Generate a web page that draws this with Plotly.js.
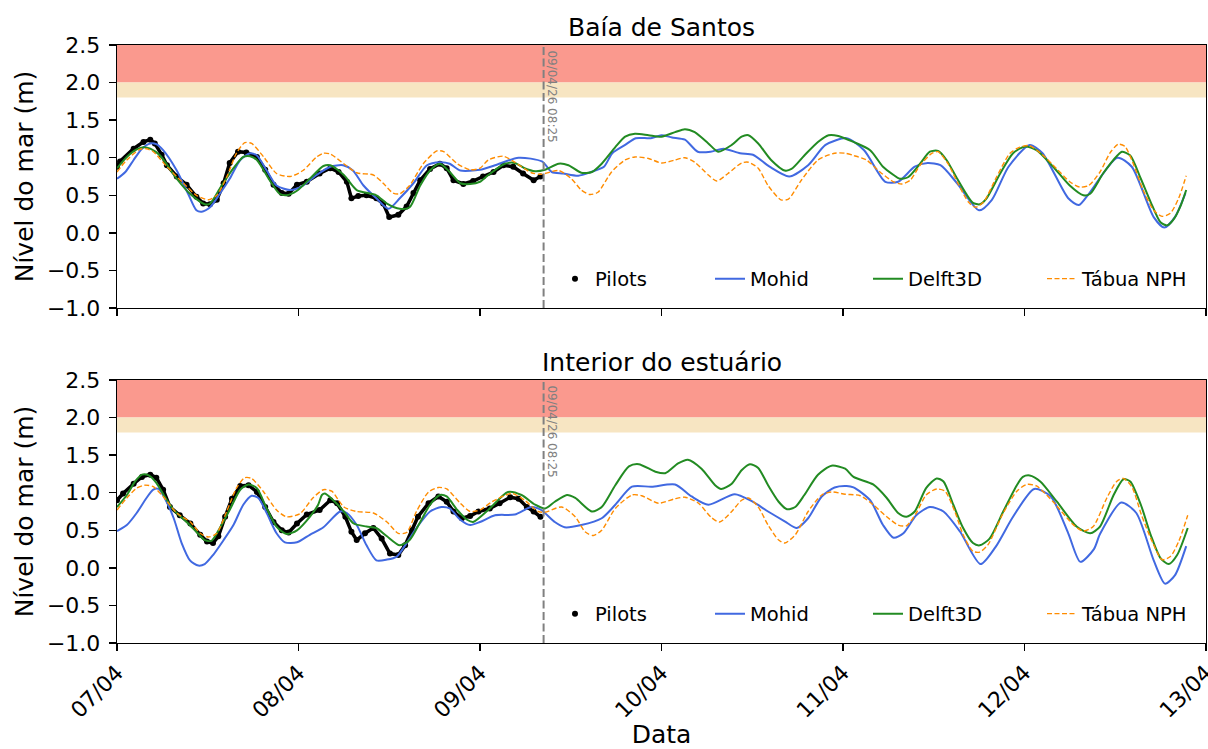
<!DOCTYPE html>
<html>
<head>
<meta charset="utf-8">
<script src="https://cdn.plot.ly/plotly-3.0.1.min.js"></script>
<style>html,body{margin:0;padding:0;background:#fff;} #chart{width:1208px;height:749px;}</style>
</head>
<body>
<div id="chart"></div>
<script>
// ---- DATA (hours after 07/04 00:00, sea level in m) ----
const dayTicks = ['2026-04-07','2026-04-08','2026-04-09','2026-04-10','2026-04-11','2026-04-12','2026-04-13'];
const nowcastTime = '2026-04-09 08:25:00';
const nowcastLabel = '09/04/26 08:25';
const subplotTitles = ['Baía de Santos', 'Interior do estuário'];

// Top: Baía de Santos
const topPilotsH = [0,0.4,2.2,3.5,4.4,5.0,5.9,6.6,7.9,9.2,10.5,11.4,12.3,13.2,14.1,14.9,16.0,17.1,18.5,19.6,20.7,21.8,22.7,23.8,25.1,26.8,28.2,29.3,30.4,31.0,31.9,33.0,34.3,35.2,36.0,37.2,38.3,39.2,40.1,41.4,42.7,43.6,44.5,45.8,47.1,48.4,49.8,51.1,52.4,53.7,55.1,56.0];
const topPilotsV = [0.88,0.95,1.12,1.21,1.24,1.19,1.04,0.90,0.75,0.64,0.48,0.39,0.38,0.44,0.66,0.93,1.08,1.07,1.01,0.84,0.64,0.53,0.52,0.64,0.68,0.79,0.86,0.81,0.68,0.46,0.49,0.50,0.46,0.39,0.21,0.24,0.35,0.53,0.70,0.85,0.92,0.86,0.70,0.65,0.69,0.75,0.81,0.90,0.88,0.79,0.70,0.75];

const topMohidH = [0,1.1,2.2,3.3,4.4,5.2,6.1,7.9,9.4,10.5,11.2,12.3,13.6,14.9,16.3,17.6,18.5,19.8,21.1,22.9,24.6,26.4,28.2,29.9,31.2,32.6,34.3,35.9,37.4,39.2,41.0,42.7,44.0,45.4,48.0,50.0,53.1,56.2,57.5,59.0,61.0,62.7,64.4,65.5,67.2,68.6,70.6,72.0,73.4,75.1,76.8,78.5,80.2,82.4,84.1,86.3,88.9,91.4,93.7,96.5,98.8,101.6,103.3,105.5,107.2,108.9,111.1,114.0,115.7,117.9,120.7,122.4,125.8,127.2,128.6,132.3,134.2,137.1,138.5,139.9,141.3];
const topMohidV = [0.72,0.81,0.97,1.12,1.19,1.18,1.10,0.83,0.52,0.30,0.28,0.34,0.52,0.72,0.97,1.06,1.03,0.83,0.63,0.57,0.63,0.77,0.88,0.90,0.83,0.63,0.46,0.32,0.46,0.66,0.90,0.94,0.92,0.83,0.84,0.90,1.00,0.95,0.81,0.79,0.76,0.81,0.88,1.06,1.17,1.26,1.26,1.30,1.27,1.24,1.08,1.08,1.12,1.06,1.04,0.88,0.75,0.90,1.17,1.26,1.10,0.68,0.68,0.88,0.93,0.90,0.66,0.30,0.44,0.88,1.17,1.06,0.46,0.37,0.53,1.00,0.88,0.21,0.07,0.21,0.53];

const topDelftH = [0,1.3,2.6,3.5,4.4,5.7,7.9,9.65,11.6,12.3,13.6,15.4,16.7,17.6,18.5,20.2,21.5,22.4,23.8,25.5,27.3,28.2,30.0,31.7,34.3,35.7,37.4,38.7,40.1,41.4,42.7,44.0,45.4,46.7,48.0,49.1,51.3,52.6,53.9,55.3,56.6,58.4,59.7,61.4,62.8,64.1,65.9,67.2,68.5,70.3,72.0,73.8,75.1,76.4,78.2,79.5,81.3,82.6,83.5,84.8,86.5,88.3,89.2,90.9,92.7,94.1,95.4,97.4,99.6,101.3,102.7,103.5,104.6,106.2,107.5,108.6,109.7,111.0,112.3,113.2,114.1,115.0,116.8,118.5,120.1,121.6,123.8,126.0,127.8,128.7,130.4,132.3,132.9,134.0,135.4,136.7,138.0,138.9,139.8,140.7,141.4];
const topDelftV = [0.86,1.01,1.11,1.14,1.12,1.03,0.72,0.52,0.38,0.39,0.59,0.86,1.01,1.02,0.97,0.70,0.52,0.50,0.56,0.72,0.89,0.90,0.77,0.57,0.50,0.39,0.32,0.34,0.63,0.83,0.92,0.81,0.66,0.65,0.68,0.77,0.92,0.93,0.86,0.82,0.84,0.92,0.90,0.80,0.81,0.92,1.14,1.28,1.32,1.30,1.28,1.34,1.38,1.34,1.19,1.08,1.17,1.28,1.30,1.19,0.97,0.83,0.85,1.03,1.21,1.30,1.29,1.21,1.10,0.88,0.77,0.72,0.74,0.92,1.08,1.09,0.97,0.74,0.52,0.40,0.38,0.46,0.79,1.06,1.15,1.10,0.88,0.63,0.50,0.52,0.79,1.03,1.08,1.03,0.72,0.41,0.14,0.10,0.19,0.37,0.57];

const topTabuaH = [0,1.3,3.0,3.9,4.8,6.6,8.8,10.5,12.1,13.2,14.5,15.8,16.9,17.8,19.4,21.1,22.9,24.6,26.4,27.3,28.2,30.0,31.7,33.9,35.2,36.5,37.4,38.7,40.5,42.3,43.2,45.0,46.7,48.0,49.1,51.1,52.6,54.8,56.1,58.4,60.1,61.4,62.5,63.6,65.4,67.2,68.5,70.3,72.0,73.8,75.1,76.4,78.2,79.3,80.8,82.6,83.5,84.8,86.1,87.8,88.8,90.5,92.7,94.9,96.3,97.4,99.1,100.9,102.7,103.8,104.9,106.2,107.8,108.6,109.9,111.2,112.6,113.5,114.6,116.3,118.1,119.4,120.7,122.5,124.2,126.0,127.3,128.5,130.0,131.3,132.4,133.3,134.4,135.7,137.1,138.2,139.3,140.4,141.4];
const topTabuaV = [0.81,0.97,1.11,1.12,1.08,0.88,0.66,0.50,0.44,0.50,0.74,1.06,1.20,1.19,1.01,0.79,0.75,0.83,1.01,1.06,1.05,0.92,0.80,0.77,0.66,0.53,0.52,0.63,0.92,1.09,1.08,0.92,0.84,0.86,0.97,1.02,0.94,0.80,0.78,0.83,0.72,0.57,0.51,0.54,0.81,0.97,1.01,0.99,0.93,0.97,1.00,0.94,0.77,0.69,0.79,0.93,0.94,0.86,0.63,0.44,0.45,0.70,0.97,1.06,1.06,1.03,0.97,0.81,0.68,0.65,0.70,0.90,1.06,1.08,0.92,0.66,0.41,0.34,0.41,0.74,1.06,1.14,1.16,1.03,0.86,0.68,0.61,0.63,0.81,1.06,1.18,1.15,0.92,0.57,0.30,0.22,0.26,0.46,0.76];

// Bottom: Interior do estuário
const botPilotsH = [0,0.8,2.2,3.3,4.4,5.2,6.1,7.0,8.3,9.7,11.0,11.9,12.7,13.4,14.3,15.2,16.3,17.4,18.5,19.6,20.7,21.8,22.7,23.8,25.1,26.8,28.2,29.1,30.2,31.0,31.7,32.8,33.9,35.0,36.1,37.2,38.1,39.0,39.8,41.2,42.5,43.6,44.5,45.6,46.7,47.8,49.3,50.6,52.0,53.1,54.2,55.1,56.0];
const botPilotsV = [0.90,0.99,1.12,1.21,1.24,1.20,1.04,0.81,0.70,0.59,0.44,0.35,0.33,0.42,0.68,0.92,1.09,1.10,1.01,0.81,0.61,0.50,0.47,0.59,0.71,0.77,0.90,0.86,0.68,0.48,0.37,0.46,0.53,0.39,0.19,0.17,0.30,0.50,0.68,0.86,0.95,0.88,0.75,0.66,0.69,0.75,0.79,0.86,0.94,0.92,0.81,0.75,0.68];

const botMohidH = [0,1.3,2.6,3.9,4.8,5.5,6.3,7.5,8.55,9.65,10.75,11.6,12.7,14.1,15.4,16.7,17.8,18.7,19.8,21.1,22.2,23.8,25.5,27.3,29.5,30.4,31.7,33.0,34.3,35.7,37.0,38.3,39.6,41.4,42.9,44.0,45.4,46.7,48.0,50.0,52.6,54.8,56.1,57.9,59.2,61.4,64.1,65.9,68.1,70.7,73.8,76.0,78.2,81.7,83.9,86.1,88.3,89.9,91.4,93.2,94.9,96.5,97.4,99.6,101.3,102.7,104.0,105.7,107.5,109.3,111.5,114.2,116.2,118.5,121.3,123.5,125.8,127.4,129.2,130.0,132.8,134.8,137.1,138.6,139.9,141.4];
const botMohidV = [0.49,0.57,0.73,0.93,1.04,1.05,0.93,0.66,0.33,0.10,0.03,0.05,0.17,0.37,0.57,0.84,0.96,0.93,0.73,0.46,0.34,0.34,0.44,0.54,0.75,0.73,0.57,0.30,0.10,0.11,0.15,0.33,0.53,0.75,0.81,0.79,0.64,0.57,0.61,0.70,0.71,0.81,0.77,0.61,0.54,0.57,0.66,0.84,1.08,1.08,1.11,0.95,0.84,0.98,0.89,0.75,0.62,0.53,0.66,0.95,1.07,1.09,1.07,0.90,0.57,0.40,0.46,0.70,0.81,0.75,0.48,0.05,0.28,0.68,1.05,0.95,0.46,0.08,0.25,0.45,0.87,0.73,0.10,-0.21,-0.10,0.29];

const botDelftH = [0,1.3,2.4,3.3,4.2,5.2,6.6,7.5,9.2,10.5,11.6,12.5,13.6,15.0,16.3,17.4,18.5,19.8,21.1,22.4,23.8,25.5,26.6,27.1,27.5,28.6,30.0,31.3,33.0,34.3,35.7,37.4,38.7,40.1,41.4,42.7,43.6,45.0,46.3,47.1,49.1,51.7,53.5,55.3,56.6,57.9,59.5,60.6,62.8,64.1,65.9,67.7,69.0,71.2,72.5,74.2,75.5,77.3,79.1,79.9,81.3,82.6,83.7,84.8,86.1,87.5,88.6,89.7,90.9,92.7,94.5,96.3,97.4,100.0,101.8,103.3,104.4,105.5,107.0,108.4,109.3,110.6,111.9,113.2,114.1,115.4,117.2,119.0,119.8,120.7,122.1,124.3,126.9,128.7,130.0,131.8,133.1,134.0,135.4,136.7,138.0,139.1,140.2,141.6];
const botDelftV = [0.81,0.97,1.15,1.24,1.23,1.13,0.90,0.77,0.61,0.48,0.37,0.36,0.53,0.79,1.04,1.11,1.06,0.79,0.55,0.45,0.50,0.68,0.84,0.97,0.99,0.90,0.75,0.59,0.55,0.53,0.42,0.30,0.37,0.61,0.84,0.97,0.95,0.77,0.64,0.61,0.77,1.01,0.97,0.84,0.79,0.88,0.97,0.93,0.75,0.81,1.10,1.35,1.38,1.28,1.26,1.39,1.44,1.32,1.10,1.05,1.12,1.30,1.38,1.33,1.10,0.88,0.78,0.81,0.97,1.24,1.36,1.32,1.21,1.11,0.93,0.73,0.68,0.75,1.06,1.19,1.15,0.84,0.53,0.33,0.30,0.39,0.75,1.10,1.21,1.23,1.15,0.88,0.55,0.46,0.55,0.97,1.18,1.15,0.84,0.44,0.13,0.05,0.17,0.53];

const botTabuaH = [0,1.3,2.6,3.7,4.8,6.1,7.9,9.7,11.0,12.1,13.2,14.5,15.8,16.9,17.8,19.4,21.1,22.4,24.2,25.9,27.3,28.4,30.0,31.7,33.9,35.7,37.2,38.3,39.6,41.2,42.5,43.6,45.4,46.7,48.0,49.6,52.2,53.9,55.7,56.6,58.8,60.6,61.9,63.0,64.1,65.9,68.1,69.4,71.6,73.8,75.1,76.9,78.6,79.7,81.3,82.6,83.5,84.8,86.1,87.5,88.3,89.7,91.4,93.2,94.5,96.3,98.3,100.0,101.8,103.3,104.4,105.7,107.0,108.4,109.5,110.8,111.9,113.2,114.1,115.2,117.2,119.0,120.3,121.6,123.8,126.5,127.8,129.1,130.9,132.2,133.1,134.2,135.5,136.9,138.2,139.3,140.4,141.6];
const botTabuaV = [0.77,0.93,1.06,1.10,1.08,0.95,0.73,0.61,0.46,0.41,0.46,0.75,1.06,1.20,1.19,1.01,0.77,0.68,0.72,0.93,1.04,1.02,0.81,0.75,0.73,0.61,0.46,0.47,0.75,1.01,1.07,1.05,0.86,0.75,0.77,0.88,0.99,0.90,0.75,0.74,0.81,0.68,0.48,0.43,0.50,0.79,0.97,0.96,0.86,0.92,0.94,0.86,0.67,0.61,0.75,0.90,0.93,0.81,0.57,0.37,0.33,0.44,0.75,0.97,1.01,0.98,0.96,0.84,0.68,0.57,0.56,0.73,0.97,1.05,1.02,0.75,0.44,0.22,0.21,0.31,0.73,1.02,1.11,1.09,0.88,0.57,0.49,0.55,0.93,1.15,1.19,1.08,0.70,0.35,0.11,0.15,0.35,0.70];

const seriesNames = ['Pilots', 'Mohid', 'Delft3D', 'Tábua NPH'];
const thresholds = {warnLow: 1.8, warnHigh: 2.0, alertHigh: 2.5};

// ---- BUILD ----
const base = Date.UTC(2026, 3, 7, 0, 0, 0);
const toDate = h => new Date(base + h * 3600000).toISOString().slice(0, 19).replace('T', ' ');
const FONT = 'DejaVu Sans, Liberation Sans, sans-serif';
const COL = {pilots: 'black', mohid: '#4169E1', delft: '#228B22', tabua: '#FF8C00'};
const legendW = [110, 113, 129, null];

function panel(data, xa, ya, leg) {
  const [pH, pV, mH, mV, dH, dV, tH, tV] = data;
  return [
    {x: pH.map(toDate), y: pV, xaxis: xa, yaxis: ya, mode: 'lines', showlegend: false,
     line: {color: COL.pilots, width: 3.5}, hoverinfo: 'skip'},
    {x: pH.map(toDate), y: pV, xaxis: xa, yaxis: ya, mode: 'markers', name: seriesNames[0], legend: leg,
     marker: {color: COL.pilots, size: 6}, legendwidth: legendW[0]},
    {x: mH.map(toDate), y: mV, xaxis: xa, yaxis: ya, mode: 'lines', name: seriesNames[1], legend: leg,
     line: {color: COL.mohid, width: 2, shape: 'spline', smoothing: 0.7}, legendwidth: legendW[1]},
    {x: dH.map(toDate), y: dV, xaxis: xa, yaxis: ya, mode: 'lines', name: seriesNames[2], legend: leg,
     line: {color: COL.delft, width: 2, shape: 'spline', smoothing: 0.7}, legendwidth: legendW[2]},
    {x: tH.map(toDate), y: tV, xaxis: xa, yaxis: ya, mode: 'lines', name: seriesNames[3], legend: leg,
     line: {color: COL.tabua, width: 1.4, dash: '5px,2.5px', shape: 'spline', smoothing: 0.7}}
  ];
}

const traces = [
  ...panel([topPilotsH, topPilotsV, topMohidH, topMohidV, topDelftH, topDelftV, topTabuaH, topTabuaV], 'x', 'y', 'legend'),
  ...panel([botPilotsH, botPilotsV, botMohidH, botMohidV, botDelftH, botDelftV, botTabuaH, botTabuaV], 'x2', 'y2', 'legend2')
];

const axCommon = {
  showline: true, mirror: true, linecolor: 'black', linewidth: 1.3,
  ticks: 'outside', ticklen: 7, tickwidth: 1.3, tickcolor: 'black',
  showgrid: false, zeroline: false, tickfont: {family: FONT, size: 22, color: 'black'}
};
const xCommon = Object.assign({}, axCommon, {
  type: 'date', range: [dayTicks[0], dayTicks[dayTicks.length - 1] + ' 00:01'],
  tickmode: 'linear', tick0: dayTicks[0], dtick: 86400000, tickformat: '%d/%m',
  ticklabeloverflow: 'allow'
});
const yCommon = Object.assign({}, axCommon, {
  range: [-1, 2.5], tickvals: [-1, -0.5, 0, 0.5, 1, 1.5, 2, 2.5], tickformat: '.1f',
  ticklabelstandoff: 4,
  title: {text: 'Nível do mar (m)', font: {family: FONT, size: 25, color: 'black'}, standoff: 6}
});

const shapes = [];
const annotations = [];
[['x', 'y'], ['x2', 'y2']].forEach(([xa, ya], i) => {
  shapes.push({type: 'rect', xref: xa + ' domain', yref: ya, x0: 0, x1: 1, y0: thresholds.warnHigh, y1: thresholds.alertHigh,
               fillcolor: '#FA998E', line: {width: 0}, layer: 'below'});
  shapes.push({type: 'rect', xref: xa + ' domain', yref: ya, x0: 0, x1: 1, y0: thresholds.warnLow, y1: thresholds.warnHigh,
               fillcolor: '#F7E5C2', line: {width: 0}, layer: 'below'});
  shapes.push({type: 'line', xref: xa, yref: ya + ' domain', x0: nowcastTime, x1: nowcastTime, y0: 0, y1: 1,
               line: {color: 'grey', width: 2, dash: '8px,3.5px'}});
  annotations.push({xref: xa, yref: ya + ' domain', x: nowcastTime, y: 1, xanchor: 'left', yanchor: 'top',
                    text: nowcastLabel, textangle: 90, showarrow: false, xshift: -1, yshift: -3,
                    font: {family: FONT, size: 12, color: 'grey'}});
  annotations.push({xref: 'paper', yref: ya + ' domain', x: 0.5, y: 1, xanchor: 'center', yanchor: 'bottom',
                    text: subplotTitles[i], showarrow: false, yshift: 1,
                    font: {family: FONT, size: 25, color: 'black'}});
});

const layout = {
  width: 1208, height: 749,
  margin: {l: 117, r: 2, t: 45, b: 106},
  paper_bgcolor: 'white', plot_bgcolor: 'white',
  font: {family: FONT, color: 'black'},
  xaxis: Object.assign({}, xCommon, {anchor: 'y', showticklabels: false}),
  xaxis2: Object.assign({}, xCommon, {anchor: 'y2', matches: 'x', tickangle: -45,
    title: {text: 'Data', font: {family: FONT, size: 25, color: 'black'}, standoff: 7}}),
  yaxis: Object.assign({}, yCommon, {domain: [0.5602, 1], anchor: 'x'}),
  yaxis2: Object.assign({}, yCommon, {domain: [0, 0.4398], anchor: 'x2'}),
  legend: {orientation: 'h', x: 0.4022, xanchor: 'left', y: 0.6087, yanchor: 'middle',
           bgcolor: 'rgba(0,0,0,0)', font: {family: FONT, size: 19.5, color: 'black'}},
  legend2: {orientation: 'h', x: 0.4022, xanchor: 'left', y: 0.0485, yanchor: 'middle',
            bgcolor: 'rgba(0,0,0,0)', font: {family: FONT, size: 19.5, color: 'black'}},
  shapes: shapes, annotations: annotations, showlegend: true
};

Plotly.newPlot('chart', traces, layout, {staticPlot: true, displayModeBar: false});
</script>
</body>
</html>
